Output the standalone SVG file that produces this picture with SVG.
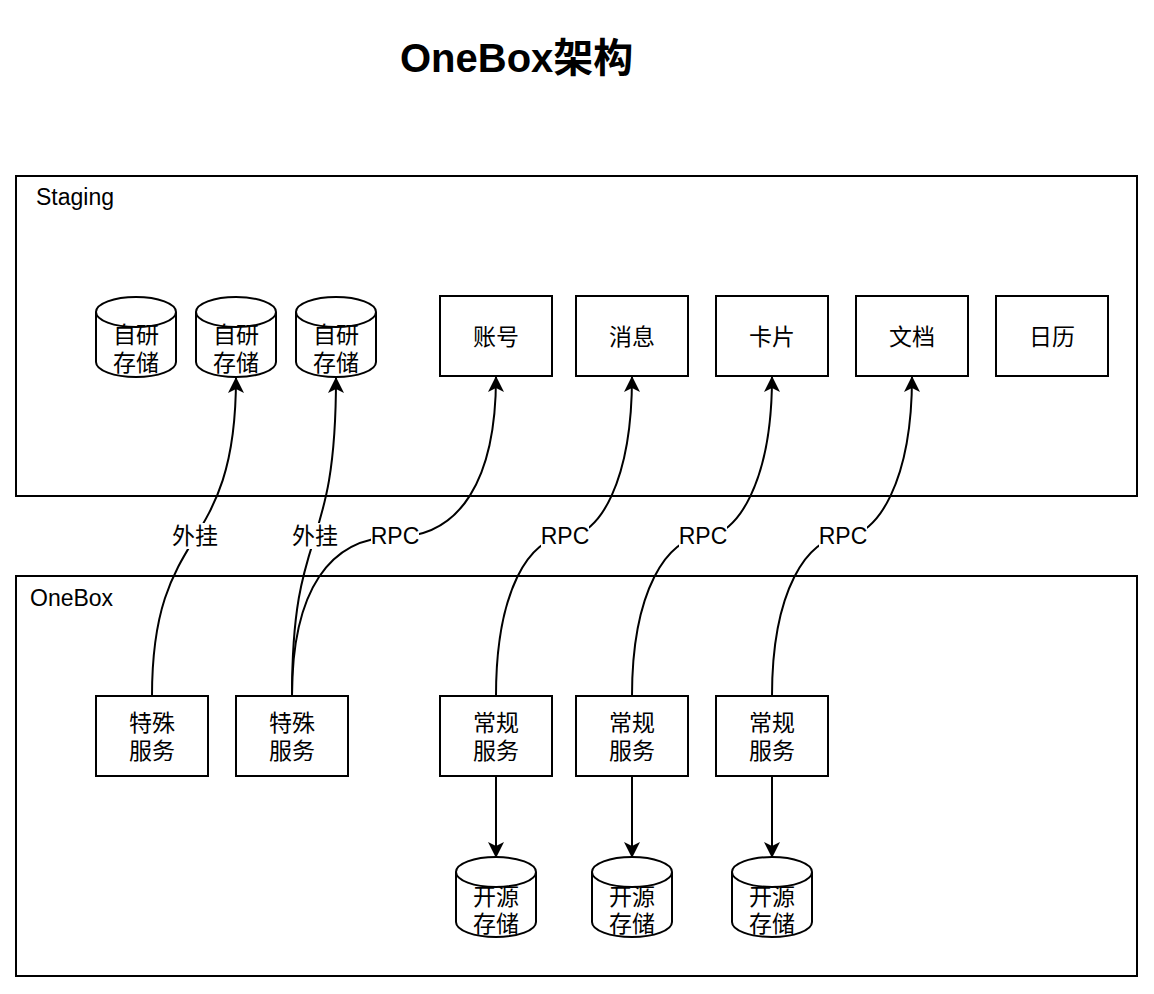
<svg xmlns="http://www.w3.org/2000/svg" width="1154" height="994" viewBox="0 0 1154 994">
<style>
.box{fill:#fff;stroke:#000;stroke-width:2}
.cont{fill:none;stroke:#000;stroke-width:2}
.t{font-family:"Liberation Sans","Noto Sans CJK SC",sans-serif;font-size:23px;fill:#000;text-anchor:middle}
.tl{font-family:"Liberation Sans","Noto Sans CJK SC",sans-serif;font-size:23px;fill:#000}
.edge{fill:none;stroke:#000;stroke-width:2}
.lbl{fill:#fff}
</style>
<defs>
<marker id="arr" viewBox="0 0 16 16" refX="15" refY="8" markerWidth="16" markerHeight="16" markerUnits="userSpaceOnUse" orient="auto">
<path d="M0,0 L16,8 L0,16 L4,8 Z" fill="#000"/>
</marker>
</defs>
<rect width="1154" height="994" fill="#fff"/>
<text x="400" y="72" font-family="Liberation Sans,Noto Sans CJK SC,sans-serif" font-size="40" font-weight="bold">OneBox架构</text>

<g id="staging"><rect class="cont" x="16" y="176" width="1121" height="320"/><text class="tl" x="36" y="205">Staging</text></g>
<g id="onebox"><rect class="cont" x="16" y="576" width="1121" height="400"/><text class="tl" x="30" y="606">OneBox</text></g>

<g id="db1"><path class="box" d="M96,312 A40,15 0 0 1 176,312 L176,362 A40,15 0 0 1 96,362 Z M96,312 A40,15 0 0 0 176,312"/><text class="t" x="136" y="343">自研</text><text class="t" x="136" y="371">存储</text></g>
<g id="db2"><path class="box" d="M196,312 A40,15 0 0 1 276,312 L276,362 A40,15 0 0 1 196,362 Z M196,312 A40,15 0 0 0 276,312"/><text class="t" x="236" y="343">自研</text><text class="t" x="236" y="371">存储</text></g>
<g id="db3"><path class="box" d="M296,312 A40,15 0 0 1 376,312 L376,362 A40,15 0 0 1 296,362 Z M296,312 A40,15 0 0 0 376,312"/><text class="t" x="336" y="343">自研</text><text class="t" x="336" y="371">存储</text></g>

<g id="account"><rect class="box" x="440" y="296" width="112" height="80"/><text class="t" x="496" y="345">账号</text></g>
<g id="message"><rect class="box" x="576" y="296" width="112" height="80"/><text class="t" x="632" y="345">消息</text></g>
<g id="card"><rect class="box" x="716" y="296" width="112" height="80"/><text class="t" x="772" y="345">卡片</text></g>
<g id="doc"><rect class="box" x="856" y="296" width="112" height="80"/><text class="t" x="912" y="345">文档</text></g>
<g id="calendar"><rect class="box" x="996" y="296" width="112" height="80"/><text class="t" x="1052" y="345">日历</text></g>

<g id="special1"><rect class="box" x="96" y="696" width="112" height="80"/><text class="t" x="152" y="731">特殊</text><text class="t" x="152" y="759">服务</text></g>
<g id="special2"><rect class="box" x="236" y="696" width="112" height="80"/><text class="t" x="292" y="731">特殊</text><text class="t" x="292" y="759">服务</text></g>
<g id="normal1"><rect class="box" x="440" y="696" width="112" height="80"/><text class="t" x="496" y="731">常规</text><text class="t" x="496" y="759">服务</text></g>
<g id="normal2"><rect class="box" x="576" y="696" width="112" height="80"/><text class="t" x="632" y="731">常规</text><text class="t" x="632" y="759">服务</text></g>
<g id="normal3"><rect class="box" x="716" y="696" width="112" height="80"/><text class="t" x="772" y="731">常规</text><text class="t" x="772" y="759">服务</text></g>

<g id="os1"><path class="box" d="M456,872 A40,15 0 0 1 536,872 L536,922 A40,15 0 0 1 456,922 Z M456,872 A40,15 0 0 0 536,872"/><text class="t" x="496" y="905">开源</text><text class="t" x="496" y="932">存储</text></g>
<g id="os2"><path class="box" d="M592,872 A40,15 0 0 1 672,872 L672,922 A40,15 0 0 1 592,922 Z M592,872 A40,15 0 0 0 672,872"/><text class="t" x="632" y="905">开源</text><text class="t" x="632" y="932">存储</text></g>
<g id="os3"><path class="box" d="M732,872 A40,15 0 0 1 812,872 L812,922 A40,15 0 0 1 732,922 Z M732,872 A40,15 0 0 0 812,872"/><text class="t" x="772" y="905">开源</text><text class="t" x="772" y="932">存储</text></g>

<g id="connectors">
<path class="edge" marker-end="url(#arr)" d="M152,696 C152,520 236,560 236,378"/>
<path class="edge" marker-end="url(#arr)" d="M292,696 C292,520 336,560 336,378"/>
<path class="edge" marker-end="url(#arr)" d="M292,696 C292,590 330,537 395,537 C460,537 496,480 496,377"/>
<path class="edge" marker-end="url(#arr)" d="M496,696 C496,590 530,537 565,537 C600,537 632,480 632,377"/>
<path class="edge" marker-end="url(#arr)" d="M632,696 C632,590 668,537 703,537 C738,537 772,480 772,377"/>
<path class="edge" marker-end="url(#arr)" d="M772,696 C772,590 808,537 843,537 C878,537 912,480 912,377"/>
<path class="edge" marker-end="url(#arr)" d="M496,776 L496,857"/>
<path class="edge" marker-end="url(#arr)" d="M632,776 L632,857"/>
<path class="edge" marker-end="url(#arr)" d="M772,776 L772,857"/>
<rect class="lbl" x="171" y="523" width="48" height="26"/><text class="t" x="195" y="544">外挂</text>
<rect class="lbl" x="291" y="523" width="48" height="26"/><text class="t" x="315" y="544">外挂</text>
<rect class="lbl" x="371" y="523" width="48" height="26"/><text class="t" x="395" y="544">RPC</text>
<rect class="lbl" x="541" y="523" width="48" height="26"/><text class="t" x="565" y="544">RPC</text>
<rect class="lbl" x="679" y="523" width="48" height="26"/><text class="t" x="703" y="544">RPC</text>
<rect class="lbl" x="819" y="523" width="48" height="26"/><text class="t" x="843" y="544">RPC</text>
</g>
</svg>
